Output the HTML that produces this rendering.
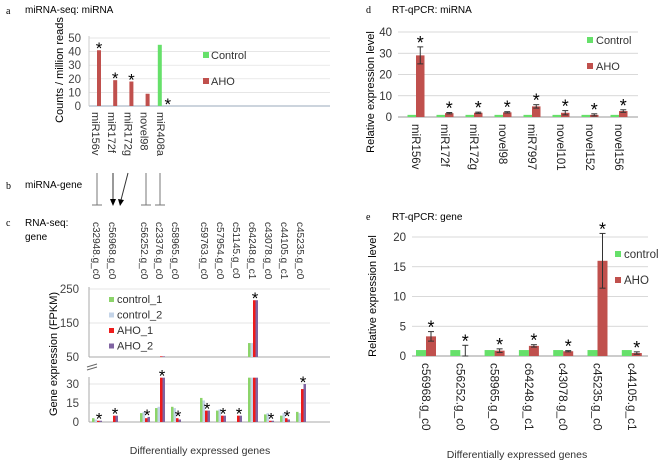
<!DOCTYPE html>
<html><head><meta charset="utf-8"><style>
body{margin:0;background:#fff;}
svg{display:block;font-family:"Liberation Sans",sans-serif;}
</style></head><body>
<svg id="fig" width="660" height="463" viewBox="0 0 660 463">
<g id="pa"></g>
<g id="pb"></g>
<g id="pc"></g>
<g id="pd"></g>
<g id="pe"></g>
</svg>
<script>
// Panel a data
const aCats=["miR156v","miR172f","miR172g","novel98","miR408a"];
const aCtrl=[0,0,0,0,45];
const aAho=[41,19,18,9,0];
const aStar=[1,1,1,0,1];
const aTicks=[0,10,20,30,40,50];
// Panel c data
const cGenes=["c32948.g_c0","c56968.g_c0","c56252.g_c0","c23376.g_c0","c58965.g_c0","c59763.g_c0","c57954.g_c0","c51145.g_c0","c64248.g_c1","c43078.g_c0","c44105.g_c1","c45235.g_c0"];
const cCtrl1=[3,0,7,11,12,19,9,0,91,6,5,8];
const cCtrl2=[2,0,8,12,11,17,10,0,91,7,7,7];
const cAho1=[1,5,3,52,3,9,5,5,217,1,3,26];
const cAho2=[1,5,4,52,2,9,5,5,217,1,2,30];
const cUpTicks=[50,150,250];
const cLowTicks=[0,15,30];
// Panel d data
const dCats=["miR156v","miR172f","miR172g","novel98","miR7997","novel101","novel152","novel156"];
const dCtrl=[1,1,1,1,1,1,1,1];
const dAho=[29,1.8,2,2.2,5,2,1,2.8];
const dErr=[4,0.3,0.3,0.3,0.8,1,0.5,0.6];
const dTicks=[0,10,20,30,40];
// Panel e data
const eCats=["c56968.g_c0","c56252.g_c0","c58965.g_c0","c64248.g_c1","c43078.g_c0","c45235.g_c0","c44105.g_c1"];
const eCtrl=[1,1,1,1,1,1,1];
const eAho=[3.3,0,0.9,1.7,0.8,16,0.5];
const eErr=[0.8,1.8,0.3,0.2,0.1,4.6,0.2];
const eTicks=[0,5,10,15,20];

const NS="http://www.w3.org/2000/svg";
function mk(parent,tag,attrs,text){const e=document.createElementNS(NS,tag);for(const k in attrs)e.setAttribute(k,attrs[k]);if(text!==undefined)e.textContent=text;parent.appendChild(e);return e;}
const GREEN="#66e06a",RED="#c0504d";
function star(g,x,top,name,fs){let s=mk(g,'text',{x:x,y:top+6,'font-size':fs||17,'text-anchor':'middle'},'*');return s;}

// ---------- Panel a ----------
const pa=document.getElementById('pa');
const aY=v=>106-v*68/50, aX=i=>97+i*16.2;
let t=mk(pa,'text',{x:6,y:14,'font-size':10,'font-family':'Liberation Serif,serif'},'a');
t=mk(pa,'text',{x:25,y:13,'font-size':10},'miRNA-seq: miRNA');
aTicks.forEach(v=>{let l=mk(pa,'line',{x1:89,x2:330,y1:aY(v),y2:aY(v),stroke:v?'#ddd':'#9ab',"stroke-width":v?0.7:1});
 let tx=mk(pa,'text',{x:81,y:aY(v)+4,'font-size':11.5,'text-anchor':'end',fill:'#444'},String(v));});
mk(pa,'line',{x1:89,x2:89,y1:36,y2:106,stroke:'#ccc'});
t=mk(pa,'text',{transform:'translate(63,70) rotate(-90)','font-size':11,'text-anchor':'middle'},'Counts / million reads');
aCats.forEach((c,i)=>{const x=aX(i);
 if(aCtrl[i]>0){let r=mk(pa,'rect',{x:x-4,y:aY(aCtrl[i]),width:4,height:aCtrl[i]*68/50,fill:GREEN});}
 if(aAho[i]>0){let r=mk(pa,'rect',{x:x,y:aY(aAho[i]),width:4,height:aAho[i]*68/50,fill:RED});}
 if(aStar[i]){const top=aAho[i]>0?aY(aAho[i])-2:aY(0)-2;star(pa,x+2+(aAho[i]>0?0:4),top,'a-significance-star');}
 let l=mk(pa,'text',{transform:`translate(${x-5},112) rotate(90)`,'font-size':11,fill:'#333'},c);});
let lg=mk(pa,'rect',{x:203,y:52,width:6,height:6,fill:GREEN});
t=mk(pa,'text',{x:211,y:59,'font-size':11,fill:'#333'},'Control');
lg=mk(pa,'rect',{x:203,y:78,width:6,height:6,fill:RED});
t=mk(pa,'text',{x:211,y:85,'font-size':11,fill:'#333'},'AHO');

// ---------- Panel b ----------
const pb=document.getElementById('pb');
t=mk(pb,'text',{x:6,y:189,'font-size':10,'font-family':'Liberation Serif,serif'},'b');
t=mk(pb,'text',{x:25,y:188,'font-size':10},'miRNA-gene');
[97,146,160].forEach(x=>{mk(pb,'line',{x1:x,x2:x,y1:173,y2:205,stroke:'#777'});mk(pb,'line',{x1:x-5,x2:x+5,y1:205,y2:205,stroke:'#777'});});
mk(pb,'line',{x1:113,x2:113,y1:173,y2:200,stroke:'#333'});mk(pb,'polygon',{points:'110,199 116,199 113,206',fill:'#000'});
mk(pb,'line',{x1:128,x2:121,y1:173,y2:200,stroke:'#333'});mk(pb,'polygon',{points:'118,199 124,200 120,206',fill:'#000'});

// ---------- Panel c ----------
const pc=document.getElementById('pc');
t=mk(pc,'text',{x:6,y:226,'font-size':10,'font-family':'Liberation Serif,serif'},'c');
t=mk(pc,'text',{x:25,y:226,'font-size':10},'RNA-seq:');
t=mk(pc,'text',{x:25,y:240,'font-size':10},'gene');
const cX=[97,113,145,160,176,205,221,237,253,269,285,301];
const cUY=v=>357-(v-50)*68/200, cLY=v=>422-v*38/30;
cUpTicks.forEach(v=>{if(v>50)mk(pc,'line',{x1:89,x2:330,y1:cUY(v),y2:cUY(v),stroke:'#ddd','stroke-width':0.7});
 let tx=mk(pc,'text',{x:79,y:cUY(v)+4,'font-size':11.5,'text-anchor':'end',fill:'#444'},String(v));});
cLowTicks.forEach(v=>{if(v>0)mk(pc,'line',{x1:89,x2:330,y1:cLY(v),y2:cLY(v),stroke:'#ddd','stroke-width':0.7});
 let tx=mk(pc,'text',{x:79,y:cLY(v)+4,'font-size':11.5,'text-anchor':'end',fill:'#444'},String(v));});
mk(pc,'line',{x1:89,x2:89,y1:287,y2:357,stroke:'#aaa'});mk(pc,'line',{x1:89,x2:330,y1:357,y2:357,stroke:'#aaa'});
mk(pc,'line',{x1:89,x2:89,y1:377,y2:422,stroke:'#aaa'});mk(pc,'line',{x1:89,x2:330,y1:422,y2:422,stroke:'#aaa'});
mk(pc,'line',{x1:87,x2:97,y1:367,y2:364,stroke:'#666'});mk(pc,'line',{x1:87,x2:97,y1:370,y2:367,stroke:'#666'});
t=mk(pc,'text',{transform:'translate(57,354) rotate(-90)','font-size':11,'text-anchor':'middle'},'Gene expression (FPKM)');
const cSeries=[[cCtrl1,'#8cd46a'],[cCtrl2,'#c4d4e8'],[cAho1,'#ee1c1c'],[cAho2,'#8064a2']];
cGenes.forEach((g,i)=>{const cx=cX[i];
 cSeries.forEach(([arr,col],k)=>{const v=arr[i];if(v<=0)return;const x=cx-5+k*2.5;
  let r=mk(pc,'rect',{x:x,y:cLY(Math.min(v,35)),width:2.5,height:Math.min(v,35)*38/30,fill:col});
  if(v>50){let r2=mk(pc,'rect',{x:x,y:cUY(v),width:2.5,height:(v-50)*68/200,fill:col});}});
 const top=Math.max(cAho1[i],cAho2[i]);
 const sy=top>100?cUY(top)-2:cLY(Math.min(top,35))-2;
 star(pc,cx+2,sy,'c-significance-star');
 let l=mk(pc,'text',{transform:`translate(${cx-4},222) rotate(90)`,'font-size':10,fill:'#333'},g);});
[['control_1','#8cd46a'],['control_2','#c4d4e8'],['AHO_1','#ee1c1c'],['AHO_2','#8064a2']].forEach(([n,c],k)=>{
 let r=mk(pc,'rect',{x:109,y:297+k*15.5,width:5,height:5,fill:c});
 let tx=mk(pc,'text',{x:117,y:303+k*15.5,'font-size':11,fill:'#333'},n);});
t=mk(pc,'text',{x:200,y:454,'font-size':10.5,'text-anchor':'middle',fill:'#333'},'Differentially expressed genes');

// ---------- generic qPCR panel ----------
function qpcr(g,o){const Y=v=>o.y0-v*(o.y0-o.yTop)/o.max;
 o.ticks.forEach(v=>{mk(g,'line',{x1:o.x0,x2:o.x1,y1:Y(v),y2:Y(v),stroke:v?'#ccc':'#999','stroke-width':v?0.7:1});
  let tx=mk(g,'text',{x:o.x0-6,y:Y(v)+4,'font-size':11.5,'text-anchor':'end',fill:'#333'},String(v));});
 o.cats.forEach((c,i)=>{const cx=o.c0+i*o.step;
  let r=mk(g,'rect',{x:cx-o.bw,y:Y(o.ctrl[i]),width:o.bw,height:o.y0-Y(o.ctrl[i]),fill:GREEN});
  r=mk(g,'rect',{x:cx,y:Y(o.aho[i]),width:o.bw,height:o.y0-Y(o.aho[i]),fill:RED});
  const ex=cx+o.bw/2,et=Y(o.aho[i]+o.err[i]),eb=Y(Math.max(0,o.aho[i]-o.err[i]));
  mk(g,'line',{x1:ex,x2:ex,y1:et,y2:eb,stroke:'#333'});mk(g,'line',{x1:ex-3,x2:ex+3,y1:et,y2:et,stroke:'#333'});mk(g,'line',{x1:ex-3,x2:ex+3,y1:eb,y2:eb,stroke:'#333'});
  star(g,ex,et-4,o.p+'-significance-star',18);
  let l=mk(g,'text',{transform:`translate(${cx-4},${o.y0+7}) rotate(90)`,'font-size':o.lf,fill:'#222'},c);});
}
// Panel d
const pd=document.getElementById('pd');
t=mk(pd,'text',{x:366,y:13,'font-size':10,'font-family':'Liberation Serif,serif'},'d');
t=mk(pd,'text',{x:392,y:13,'font-size':10},'RT-qPCR: miRNA');
qpcr(pd,{p:'d',cats:dCats,ctrl:dCtrl,aho:dAho,err:dErr,ticks:dTicks,max:40,y0:117,yTop:32,x0:398,x1:638,c0:416,step:29,bw:8.5,lf:11.5});
t=mk(pd,'text',{transform:'translate(374,92) rotate(-90)','font-size':11,'text-anchor':'middle'},'Relative expression level');
let r=mk(pd,'rect',{x:587,y:37,width:6,height:6,fill:GREEN});
t=mk(pd,'text',{x:596,y:44,'font-size':11,fill:'#333'},'Control');
r=mk(pd,'rect',{x:587,y:63,width:6,height:6,fill:RED});
t=mk(pd,'text',{x:596,y:70,'font-size':11,fill:'#333'},'AHO');
// Panel e
const pe=document.getElementById('pe');
t=mk(pe,'text',{x:366,y:220,'font-size':10,'font-family':'Liberation Serif,serif'},'e');
t=mk(pe,'text',{x:392,y:220,'font-size':10},'RT-qPCR: gene');
qpcr(pe,{p:'e',cats:eCats,ctrl:eCtrl,aho:eAho,err:eErr,ticks:eTicks,max:20,y0:356,yTop:237,x0:412,x1:648,c0:426,step:34.3,bw:10,lf:11.8});
t=mk(pe,'text',{transform:'translate(376,296) rotate(-90)','font-size':11,'text-anchor':'middle'},'Relative expression level');
r=mk(pe,'rect',{x:615,y:251,width:6,height:6,fill:GREEN});
t=mk(pe,'text',{x:624,y:258,'font-size':11.5,fill:'#333'},'control');
r=mk(pe,'rect',{x:615,y:277,width:6,height:6,fill:RED});
t=mk(pe,'text',{x:624,y:284,'font-size':11.5,fill:'#333'},'AHO');
t=mk(pe,'text',{x:517,y:458,'font-size':10.5,'text-anchor':'middle',fill:'#333'},'Differentially expressed genes');
</script>
</body></html>
